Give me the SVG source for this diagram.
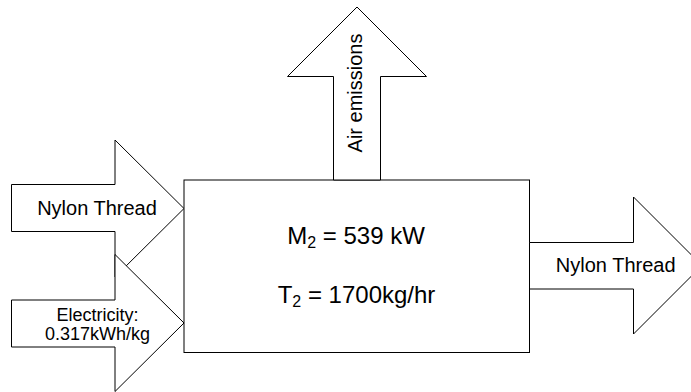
<svg xmlns="http://www.w3.org/2000/svg" width="691" height="392" viewBox="0 0 691 392">
<style>
.shape{fill:#fff;stroke:#000;stroke-width:1}
.lbl{font-family:"Liberation Sans",Arial,sans-serif;fill:#000;text-anchor:middle}
</style>
<rect width="691" height="392" fill="#fff"/>
<g id="process">
<rect class="shape" x="184" y="180" width="345.5" height="172.5"/>
<text class="lbl" x="356" y="244" font-size="24">M<tspan font-size="16" dy="4">2</tspan><tspan dy="-4"> = 539 kW</tspan></text>
<text class="lbl" x="356.5" y="302.7" font-size="24">T<tspan font-size="16" dy="4">2</tspan><tspan dy="-4"> = 1700kg/hr</tspan></text>
</g>
<g id="connectors">
<g id="air-emissions">
<polygon class="shape" points="333.5,180 333.5,76.5 287.5,76.5 357,7 426.5,76.5 380.5,76.5 380.5,180"/>
<text class="lbl" font-size="20" transform="translate(361.5,93) rotate(-90)">Air emissions</text>
</g>
<g id="nylon-in">
<polygon class="shape" points="11.5,184.5 115,184.5 115,140 184,208.5 115,277 115,231.5 11.5,231.5"/>
<text class="lbl" x="97" y="215" font-size="20">Nylon Thread</text>
</g>
<g id="electricity">
<polygon class="shape" points="11.5,300 115,300 115,254.5 184,323 115,391.5 115,347 11.5,347"/>
<text class="lbl" x="97.5" y="320.7" font-size="18">Electricity:</text>
<text class="lbl" x="97.5" y="340" font-size="18">0.317kWh/kg</text>
</g>
<g id="nylon-out">
<polygon class="shape" points="529.5,242.5 633.5,242.5 633.5,197 702,265.5 633.5,334 633.5,289 529.5,289"/>
<text class="lbl" x="615.7" y="271.7" font-size="20">Nylon Thread</text>
</g>
</g>
</svg>
